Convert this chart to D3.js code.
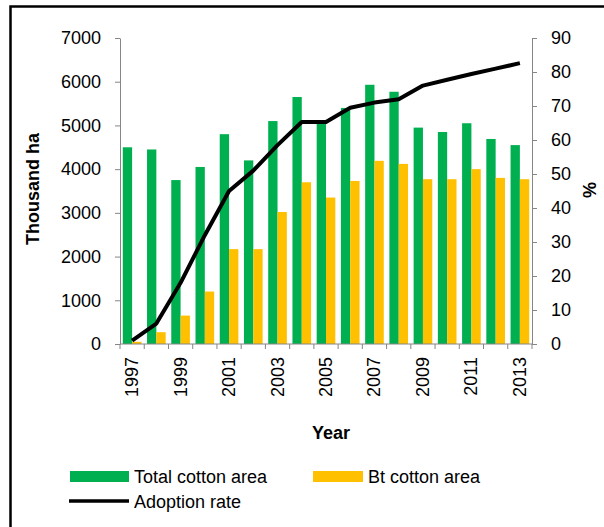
<!DOCTYPE html>
<html>
<head>
<meta charset="utf-8">
<script src="https://cdn.jsdelivr.net/npm/d3@7"></script>
<style>
  body { margin: 0; background: #fff; }
  text { font-family: "Liberation Sans", Arial, sans-serif; }
</style>
</head>
<body>
<div id="graph"></div>
<script>
// data
const years = ['1997','1998','1999','2000','2001','2002','2003','2004','2005','2006','2007','2008','2009','2010','2011','2012','2013'];
const totalArea = [4500, 4450, 3750, 4050, 4800, 4200, 5100, 5650, 5050, 5400, 5930, 5770, 4950, 4850, 5050, 4690, 4550];
const btArea = [50, 270, 650, 1200, 2170, 2170, 3020, 3700, 3350, 3730, 4190, 4120, 3770, 3770, 4000, 3800, 3770];
const adoption = [1, 6, 18, 32, 45, 51, 58.5, 65.3, 65.3, 69.5, 71, 72, 76, 77.7, 79.4, 81, 82.6];
const leftTicks = [0, 1000, 2000, 3000, 4000, 5000, 6000, 7000];
const rightTicks = [0, 10, 20, 30, 40, 50, 60, 70, 80, 90];

const W = 604, H = 527;
const x0 = 120, x1 = 532, yBottom = 344, yTop = 38;
const axisColor = '#868686';

const svg = d3.select('#graph').append('svg')
  .attr('width', W)
  .attr('height', H);

// frame
svg.append('rect')
  .attr('x', 10.5).attr('y', 6.5)
  .attr('width', 600).attr('height', 530)
  .attr('fill', 'none')
  .attr('stroke', '#000')
  .attr('stroke-width', 2.5);

// scales
const xScale = d3.scaleBand().domain(years).range([x0, x1]).padding(0);
const subScale = d3.scaleBand().domain(['total', 'bt'])
  .range([0, xScale.bandwidth()]).paddingInner(0).paddingOuter(0.3);
const yLeft = d3.scaleLinear().domain([0, 7000]).range([yBottom, yTop]);
const yRight = d3.scaleLinear().domain([0, 90]).range([yBottom, yTop]);

// bars
svg.selectAll('.bar-total')
  .data(years)
  .enter().append('rect')
  .attr('x', (d, i) => xScale(d) + subScale('total'))
  .attr('y', (d, i) => yLeft(totalArea[i]))
  .attr('width', subScale.bandwidth())
  .attr('height', (d, i) => yBottom - yLeft(totalArea[i]))
  .attr('fill', '#00B050');

svg.selectAll('.bar-bt')
  .data(years)
  .enter().append('rect')
  .attr('x', (d, i) => xScale(d) + subScale('bt'))
  .attr('y', (d, i) => yLeft(btArea[i]))
  .attr('width', subScale.bandwidth())
  .attr('height', (d, i) => yBottom - yLeft(btArea[i]))
  .attr('fill', '#FFC000');

// axes
const leftAxis = svg.append('g')
  .attr('transform', `translate(${x0},0)`)
  .call(d3.axisLeft(yLeft).tickValues(leftTicks).tickFormat(d3.format('d'))
    .tickSize(5).tickPadding(14).tickSizeOuter(0));

const rightAxis = svg.append('g')
  .attr('transform', `translate(${x1},0)`)
  .call(d3.axisRight(yRight).tickValues(rightTicks).tickFormat(d3.format('d'))
    .tickSize(5).tickPadding(14).tickSizeOuter(0));

// x axis: ticks on category boundaries
const xAxisG = svg.append('g').attr('transform', `translate(0,${yBottom})`);
xAxisG.append('line')
  .attr('x1', x0).attr('x2', x1)
  .attr('stroke', axisColor);
const bounds = years.map(d => xScale(d)).concat([x1]);
xAxisG.selectAll('.xtick')
  .data(bounds)
  .enter().append('line')
  .attr('x1', d => d).attr('x2', d => d)
  .attr('y1', 0).attr('y2', 5)
  .attr('stroke', axisColor);
xAxisG.selectAll('.xlabel')
  .data(years.filter((d, i) => i % 2 === 0))
  .enter().append('text')
  .attr('transform', d => `translate(${xScale(d) + xScale.bandwidth() / 2 + 6},13) rotate(-90)`)
  .attr('text-anchor', 'end')
  .attr('font-size', 18)
  .attr('fill', '#000')
  .text(d => d);

[leftAxis, rightAxis].forEach(g => {
  g.select('.domain').attr('stroke', axisColor);
  g.selectAll('.tick line').attr('stroke', axisColor);
  g.selectAll('.tick text')
    .attr('font-size', 18)
    .attr('font-family', '"Liberation Sans", Arial, sans-serif')
    .attr('fill', '#000');
});

// adoption line
const line = d3.line()
  .x((d, i) => xScale(years[i]) + xScale.bandwidth() / 2)
  .y(d => yRight(d));
svg.append('path')
  .datum(adoption)
  .attr('d', line)
  .attr('fill', 'none')
  .attr('stroke', '#000')
  .attr('stroke-width', 4)
  .attr('stroke-linejoin', 'round');

// axis titles
svg.append('text')
  .attr('transform', `translate(39,189) rotate(-90)`)
  .attr('text-anchor', 'middle')
  .attr('font-size', 18)
  .attr('font-weight', 'bold')
  .text('Thousand ha');

svg.append('text')
  .attr('transform', `translate(596,190) rotate(-90)`)
  .attr('text-anchor', 'middle')
  .attr('font-size', 18)
  .attr('font-weight', 'bold')
  .text('%');

svg.append('text')
  .attr('x', 331).attr('y', 439)
  .attr('text-anchor', 'middle')
  .attr('font-size', 18)
  .attr('font-weight', 'bold')
  .text('Year');

// legend
const legend = svg.append('g');
legend.append('rect').attr('x', 70).attr('y', 471).attr('width', 59).attr('height', 11).attr('fill', '#00B050');
legend.append('text').attr('x', 134).attr('y', 483).attr('font-size', 18).text('Total cotton area');
legend.append('rect').attr('x', 313).attr('y', 471).attr('width', 50).attr('height', 11).attr('fill', '#FFC000');
legend.append('text').attr('x', 368).attr('y', 483).attr('font-size', 18).text('Bt cotton area');
legend.append('line').attr('x1', 69).attr('x2', 129).attr('y1', 501).attr('y2', 501)
  .attr('stroke', '#000').attr('stroke-width', 3.5);
legend.append('text').attr('x', 134).attr('y', 508).attr('font-size', 18).text('Adoption rate');
</script>
</body>
</html>
